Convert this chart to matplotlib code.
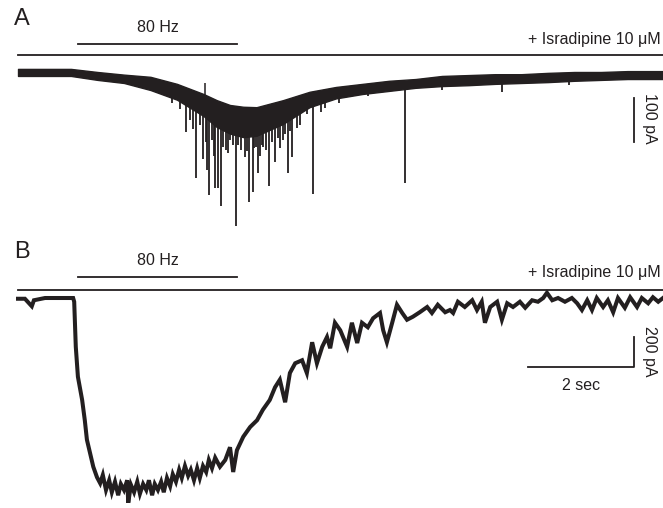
import numpy as np
import matplotlib.pyplot as plt

# --- panel A: envelope of the noisy current band (pA) vs time (s)
a_time = [0.0, 0.5, 1.0, 1.5, 2.0, 2.5, 3.0, 3.5, 3.75, 4.0, 4.25, 4.5, 5.0, 5.5, 6.0,
          6.5, 7.0, 7.5, 8.0, 8.5, 9.0, 9.5, 10.0, 10.5, 11.0, 11.5, 12.17]
a_top = [7, 7, 7, 0, -6, -11, -27, -50, -64, -75, -79, -80, -64, -45, -34,
         -27, -20, -16, -9, -7, -5, -5, -2, 0, 0, 2, 2]
a_bot = [-9, -9, -9, -18, -25, -41, -63, -100, -125, -140, -148, -145, -118, -80, -60,
         -50, -43, -36, -32, -30, -27, -25, -23, -20, -18, -16, -16]

# spontaneous downward events in A: time (s), peak (pA)
spike_t = [3.17, 3.36, 3.49, 3.57, 3.60, 3.72, 3.77, 3.83, 4.00, 4.11, 4.21, 4.36,
           4.43, 4.53, 4.62, 4.74, 4.85, 4.94, 5.09, 5.17, 5.57, 5.72, 7.30, 9.13,
           3.25, 3.43, 3.66, 3.92, 4.06, 4.28, 4.45, 4.60, 4.68, 5.00, 5.26, 5.32, 5.79,
           3.31, 3.54, 3.69, 3.87, 3.96, 4.16, 4.32, 4.49, 4.57, 4.80, 4.90, 5.04, 5.13,
           2.90, 3.05, 5.45, 6.05, 6.60, 8.00, 10.40]
spike_v = [-136, -241, -198, -223, -280, -264, -264, -305, -155, -350, -177, -295,
           -273, -230, -170, -259, -205, -173, -230, -193, -277, -91, -252, -45,
           -109, -120, -155, -177, -166, -193, -173, -166, -177, -155, -127, -120, -82,
           -130, -160, -190, -170, -185, -165, -180, -170, -190, -160, -150, -140, -135,
           -70, -85, -95, -70, -55, -40, -30]
up_t, up_v = 3.53, -25

# --- panel B: current trace (pA) vs time (s)
b_time = [0.00, 0.13, 0.26, 0.30, 0.51, 0.79, 1.04, 1.06, 1.09, 1.13, 1.21, 1.26, 1.30,
          1.36, 1.42, 1.49, 1.55, 1.60, 1.66, 1.72, 1.77, 1.83, 1.89, 1.94, 2.00, 2.06,
          2.08, 2.13, 2.19, 2.25, 2.30, 2.36, 2.42, 2.47, 2.53, 2.58, 2.64, 2.70, 2.75,
          2.81, 2.87, 2.92, 2.98, 3.04, 3.09, 3.15, 3.21, 3.26, 3.32, 3.38, 3.43, 3.49,
          3.55, 3.60, 3.66, 3.72, 3.81, 3.91, 4.00, 4.06, 4.13, 4.25, 4.38, 4.51, 4.62,
          4.75, 4.85, 4.94, 5.04, 5.13, 5.23, 5.36, 5.45, 5.55, 5.64, 5.74, 5.83, 5.89,
          5.98, 6.08, 6.21, 6.30, 6.40, 6.49, 6.60, 6.70, 6.83, 6.89, 6.96, 7.06, 7.15,
          7.25, 7.34, 7.45, 7.58, 7.72, 7.81, 7.92, 8.06, 8.15, 8.21, 8.30, 8.43, 8.57,
          8.66, 8.75, 8.81, 8.91, 9.04, 9.13, 9.23, 9.34, 9.47, 9.57, 9.70, 9.81, 9.91,
          9.98, 10.08, 10.19, 10.32, 10.45, 10.55, 10.64, 10.74, 10.83, 10.92, 11.04,
          11.13, 11.23, 11.32, 11.45, 11.55, 11.68, 11.77, 11.89, 11.98, 12.08, 12.17]
b_curr = [-5, -5, -55, -15, 0, 0, 0, -25, -325, -525, -680, -815, -945,
          -1035, -1125, -1195, -1235, -1180, -1280, -1215, -1295, -1225, -1315, -1240, -1280, -1215,
          -1365, -1245, -1295, -1225, -1305, -1240, -1280, -1215, -1315, -1240, -1280, -1225, -1295,
          -1200, -1255, -1175, -1225, -1145, -1200, -1120, -1185, -1145, -1215, -1135, -1200, -1120,
          -1160, -1080, -1135, -1065, -1125, -1080, -995, -1160, -1015, -925, -860, -815, -745,
          -680, -595, -545, -695, -500, -435, -415, -500, -295, -435, -325, -260, -335,
          -165, -215, -325, -165, -300, -165, -195, -135, -100, -215, -295, -165, -45,
          -100, -145, -125, -95, -60, -100, -45, -95, -80, -100, -25, -60, -15,
          -80, -25, -165, -60, -25, -145, -35, -60, -25, -65, -15, -25, 0,
          35, -15, 0, -25, 0, -35, -80, -15, -80, 0, -60,
          -15, -95, 0, -65, 5, -60, 0, -35, 5, -25, 0]

stim = (1.13, 4.13)          # 80 Hz train, s
t_end = 12.17
ink = '#231f20'

plt.rcParams['font.family'] = ['Liberation Sans', 'DejaVu Sans']

fig = plt.figure(figsize=(6.63, 5.08), dpi=100)
axA = fig.add_axes([0, 1 - 240 / 508, 1, 240 / 508])
axB = fig.add_axes([0, 0, 1, 268 / 508])
for ax in (axA, axB):
    ax.set_xlim(-0.34, t_end)
    ax.axis('off')
axA.set_ylim(-381.8, 163.6)
axB.set_ylim(-1400, 386.7)

# panel A trace
axA.fill_between(a_time, a_bot, a_top, color=ink, lw=1.0, edgecolor=ink)
base = np.interp(spike_t, a_time, a_bot)
axA.vlines(spike_t, base + 5, spike_v, color=ink, lw=1.3)
axA.vlines(up_t, np.interp(up_t, a_time, a_top), up_v, color=ink, lw=1.1)

axA.text(0.08, 120, 'A', fontsize=17, ha='center', va='center', color=ink)
axA.plot(stim, [64, 64], color=ink, lw=1.3)
axA.text(sum(stim) / 2, 102, '80 Hz', fontsize=11.5, ha='center', va='center', color=ink)
axA.plot([0, t_end], [39, 39], color=ink, lw=1.3)
axA.text(12.13, 73, '+ Isradipine 10 μM', fontsize=11.5, ha='right', va='center', color=ink)
axA.plot([11.62, 11.62], [-59, -159], color=ink, lw=1.3)
axA.text(11.91, -105, '100 pA', fontsize=11.5, rotation=270, ha='center', va='center', color=ink)

# panel B trace
axB.plot(b_time, b_curr, color=ink, lw=2.9, solid_joinstyle='miter')

axB.text(0.08, 307, 'B', fontsize=17, ha='center', va='center', color=ink)
axB.plot(stim, [140, 140], color=ink, lw=1.3)
axB.text(sum(stim) / 2, 247, '80 Hz', fontsize=11.5, ha='center', va='center', color=ink)
axB.plot([0, t_end], [53, 53], color=ink, lw=1.3)
axB.text(12.13, 173, '+ Isradipine 10 μM', fontsize=11.5, ha='right', va='center', color=ink)
axB.plot([9.62, 11.62, 11.62], [-460, -460, -260], color=ink, lw=1.3)
axB.text(10.62, -580, '2 sec', fontsize=11.5, ha='center', va='center', color=ink)
axB.text(11.91, -353, '200 pA', fontsize=11.5, rotation=270, ha='center', va='center', color=ink)

fig.savefig('out.png', dpi=100)
